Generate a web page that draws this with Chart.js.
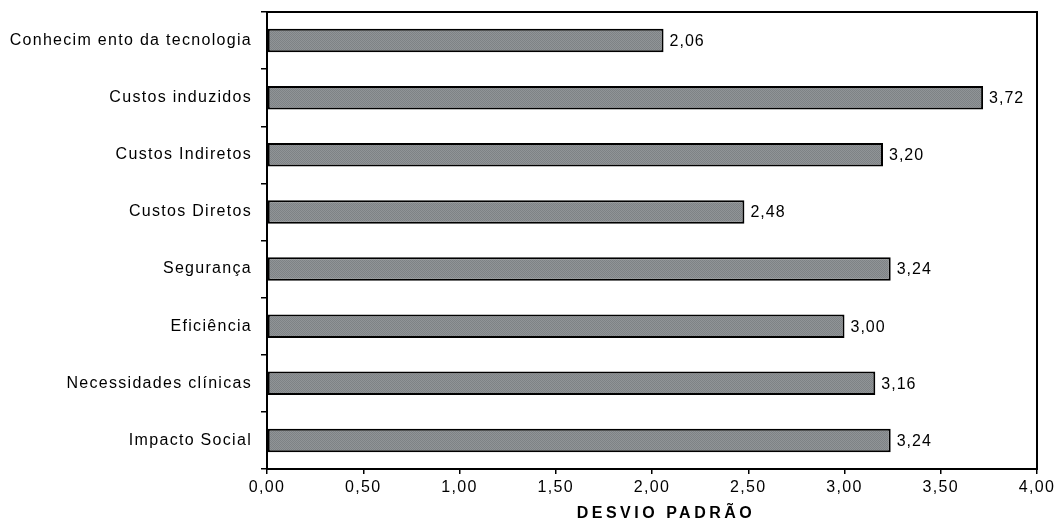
<!DOCTYPE html>
<html>
<head>
<meta charset="utf-8">
<script src="https://cdn.jsdelivr.net/npm/chart.js@4/dist/chart.umd.min.js"></script>
<style>
  html, body { margin: 0; padding: 0; background: #fff; }
  #wrap { width: 1058px; height: 522px; position: relative; }
</style>
</head>
<body>
<div id="wrap"><canvas id="c" width="1058" height="522"></canvas></div>
<script>
const categories = [
  "Conhecim ento da tecnologia",
  "Custos induzidos",
  "Custos Indiretos",
  "Custos Diretos",
  "Segurança",
  "Eficiência",
  "Necessidades clínicas",
  "Impacto Social"
];
const desvioPadrao = [2.06, 3.72, 3.20, 2.48, 3.24, 3.00, 3.16, 3.24];
const xTickMin = 0;
const xTickMax = 4;
const xTickStep = 0.5;
const axisTitle = "DESVIO PADRÃO";

function fmt(v) { return Number(v).toFixed(2).replace('.', ','); }

// dithered gray fill like the scanned original
function makePattern() {
  const p = document.createElement('canvas');
  p.width = 2; p.height = 2;
  const g = p.getContext('2d');
  for (let y = 0; y < 2; y++) {
    for (let x = 0; x < 2; x++) {
      g.fillStyle = ((x + y) % 2 === 0) ? '#7e8285' : '#909497';
      g.fillRect(x, y, 1, 1);
    }
  }
  return g.createPattern(p, 'repeat');
}
const pattern = makePattern();

const FONT = "'Liberation Sans', Arial, Helvetica, sans-serif";

const spacingPlugin = {
  id: 'spacing',
  beforeLayout(chart) { chart.ctx.letterSpacing = '1.3px'; },
  beforeDraw(chart) { chart.ctx.letterSpacing = '1.3px'; },
  afterDraw(chart) {
    const ctx = chart.ctx;
    const a = chart.chartArea;
    ctx.save();
    // frame around plot area
    ctx.strokeStyle = '#000';
    ctx.lineWidth = 2;
    ctx.strokeRect(a.left, a.top, a.right - a.left, a.bottom - a.top);
    // value labels
    ctx.fillStyle = '#000';
    ctx.font = "16px " + FONT;
    ctx.letterSpacing = '1px';
    ctx.textAlign = 'left';
    ctx.textBaseline = 'middle';
    const meta = chart.getDatasetMeta(0);
    meta.data.forEach((bar, i) => {
      ctx.fillText(fmt(desvioPadrao[i]), bar.x + 6, bar.y + 1);
    });
    // axis title
    ctx.font = "bold 16px " + FONT;
    ctx.letterSpacing = '3.5px';
    ctx.textAlign = 'center';
    ctx.fillText(axisTitle, (a.left + a.right) / 2 + 14, 514);
    ctx.restore();
  }
};

new Chart(document.getElementById('c'), {
  type: 'bar',
  data: {
    labels: categories,
    datasets: [{
      data: desvioPadrao,
      backgroundColor: pattern,
      borderColor: '#000',
      borderWidth: 2,
      borderSkipped: false,
      categoryPercentage: 1.0,
      barPercentage: 0.41
    }]
  },
  options: {
    indexAxis: 'y',
    responsive: false,
    animation: false,
    devicePixelRatio: 1,
    layout: { padding: { top: 12, right: 21, left: 0, bottom: 0 } },
    plugins: { legend: { display: false }, tooltip: { enabled: false } },
    scales: {
      x: {
        min: xTickMin,
        max: xTickMax,
        ticks: {
          stepSize: xTickStep,
          callback: (v) => fmt(v),
          color: '#000',
          font: { family: FONT, size: 16 },
          padding: 4,
          maxRotation: 0
        },
        grid: { display: true, drawOnChartArea: false, drawTicks: true, tickLength: 5, color: '#000', lineWidth: 1.5 },
        border: { display: true, color: '#000', width: 2 },
        afterFit(scale) { scale.height = 53; scale.paddingLeft = 0; scale.paddingRight = 0; }
      },
      y: {
        ticks: {
          color: '#000',
          font: { family: FONT, size: 16 },
          padding: 9
        },
        grid: { display: true, offset: true, drawOnChartArea: false, drawTicks: true, tickLength: 6, color: '#000', lineWidth: 1.5 },
        border: { display: true, color: '#000', width: 2 },
        afterFit(scale) { scale.width = 267; scale.paddingTop = 0; scale.paddingBottom = 0; }
      }
    }
  },
  plugins: [spacingPlugin]
});
</script>
</body>
</html>
